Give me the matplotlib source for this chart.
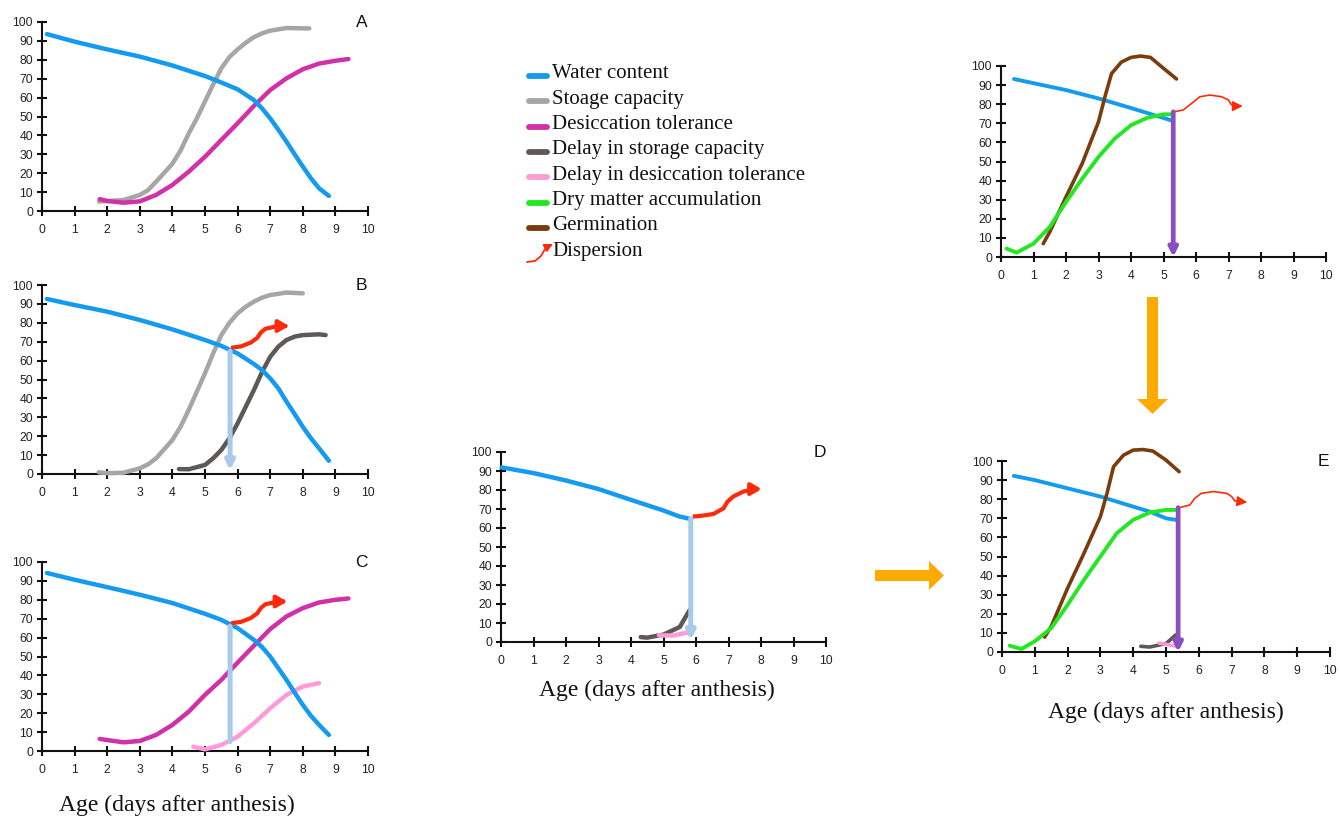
import matplotlib
matplotlib.use('Agg')
import matplotlib.pyplot as plt
from matplotlib.patches import FancyArrow

W, H = 1340, 818

BLUE = '#149bef'
GRAY = '#a6a6a6'
MAGENTA = '#d030a8'
DARKGRAY = '#5e5956'
PINK = '#ff9cd8'
GREEN = '#22e822'
BROWN = '#7a3c0c'
RED = '#ff2a0a'
LIGHTBLUE = '#a9cbea'
PURPLE = '#8a4fbe'
ORANGE = '#ffaa00'

SERIF = ['Liberation Serif', 'DejaVu Serif']
SANS = ['Liberation Sans', 'DejaVu Sans']

# ---- panel A ----
a_water_x = [0.15, 1, 2, 3, 4, 5, 5.5, 6, 6.5, 6.75, 7, 7.25, 7.5, 7.75, 8, 8.25, 8.5, 8.8]
a_water_y = [93.6, 89.6, 85.5, 81.7, 77, 71.4, 68, 64.4, 58.7, 54.3, 49, 43, 36.7, 30, 23.5, 17.3, 12, 8]
a_storage_x = [1.75, 2.5, 3, 3.25, 3.5, 4, 4.25, 4.5, 4.75, 5, 5.25, 5.5, 5.75, 6, 6.25, 6.5, 6.75, 7, 7.5, 8.2]
a_storage_y = [5, 5.8, 8.5, 11, 15.5, 25, 32, 41, 49, 58, 67, 75.5, 81.5, 85.5, 89, 92, 94, 95.4, 96.8, 96.6]
a_desic_x = [1.77, 2, 2.5, 3, 3.5, 4, 4.5, 5, 5.5, 6, 6.5, 7, 7.5, 8, 8.5, 9, 9.4]
a_desic_y = [6.3, 5.3, 4.4, 5.1, 8.5, 13.8, 20.8, 28.7, 37.6, 46.4, 55.6, 64, 70.2, 75, 78, 79.5, 80.4]

# ---- panel B ----
b_water_x = [0.15, 1, 2, 3, 4, 5, 5.5, 6, 6.5, 6.75, 7, 7.25, 7.5, 7.75, 8, 8.25, 8.5, 8.8]
b_water_y = [92.6, 89.4, 85.9, 81.5, 76.5, 70.9, 67.8, 63.8, 58.2, 55, 50.6, 45.3, 38.3, 31.7, 25, 18.9, 13.6, 7]
b_storage_x = [1.74, 2, 2.5, 3, 3.25, 3.5, 4, 4.25, 4.5, 4.75, 5, 5.25, 5.5, 5.75, 6, 6.25, 6.5, 6.75, 7, 7.5, 8]
b_storage_y = [0.9, 0.4, 0.7, 3, 5.1, 8.3, 18, 25, 33.9, 43.6, 53.3, 63.8, 73.5, 80, 85, 88.5, 91.2, 93.3, 94.7, 96, 95.6]
b_delay_x = [4.2, 4.5, 5, 5.25, 5.5, 5.75, 6, 6.25, 6.5, 6.75, 7, 7.25, 7.5, 7.75, 8, 8.5, 8.7]
b_delay_y = [2.6, 2.5, 4.8, 8.3, 12.7, 18.9, 26.8, 35.6, 44.4, 54, 62, 67.4, 70.9, 72.7, 73.5, 73.9, 73.5]
b_disp_x = [5.8, 6.1, 6.4, 6.6, 6.72, 6.85, 7.1, 7.35, 7.58]
b_disp_y = [66.8, 67.5, 69.5, 72, 75, 76.8, 77.8, 78.3, 78.3]
b_harvest = (5.77, 65, 2)

# ---- panel C ----
c_water_x = [0.15, 1, 2, 3, 4, 5, 5.5, 6, 6.5, 6.75, 7, 7.25, 7.5, 7.75, 8, 8.25, 8.5, 8.8]
c_water_y = [94.2, 90.6, 86.7, 82.7, 78.3, 72.6, 69.4, 65, 58.8, 55, 50, 43.8, 37.6, 30.9, 24.4, 18.6, 13.8, 8.5]
c_desic_x = [1.77, 2, 2.5, 3, 3.5, 4, 4.5, 5, 5.5, 6, 6.5, 7, 7.5, 8, 8.5, 9, 9.4]
c_desic_y = [6.4, 5.8, 4.6, 5.3, 8.5, 13.8, 20.8, 29.7, 37.6, 46.8, 55.7, 64.5, 71.2, 75.6, 78.6, 80, 80.7]
c_delay_x = [4.64, 5, 5.5, 6, 6.5, 7, 7.5, 8, 8.5]
c_delay_y = [2.3, 0.9, 3.2, 7.6, 14.7, 22.6, 29.7, 34.1, 35.9]
c_disp_x = [5.8, 6.1, 6.4, 6.6, 6.72, 6.85, 7.1, 7.3, 7.52]
c_disp_y = [67.6, 68.3, 70.3, 72.8, 75.8, 77.6, 78.6, 79.1, 79.1]
c_harvest = (5.77, 66, 5)

# ---- panel D ----
d_water_x = [0.02, 1, 2, 3, 4, 5, 5.5, 5.85]
d_water_y = [91.9, 88.9, 85, 80.5, 74.8, 69.2, 66, 64.7]
d_delay_x = [4.3, 4.5, 5, 5.5, 5.8]
d_delay_y = [2.6, 2.3, 3.9, 7.9, 16.7]
d_delay2_x = [4.86, 5.3, 5.8]
d_delay2_y = [3.5, 3.4, 5.2]
d_disp_x = [5.9, 6.2, 6.54, 6.85, 6.97, 7.15, 7.46, 7.76, 8.02]
d_disp_y = [66, 66.5, 67.4, 70.4, 73.9, 76.6, 79.2, 80.5, 80.5]
d_harvest = (5.84, 65, 1)

# ---- top right panel ----
f_water_x = [0.4, 1, 2, 3, 4, 5, 5.3]
f_water_y = [93.2, 91, 87.4, 83, 78, 72.8, 71.2]
f_dry_x = [0.17, 0.48, 1, 1.5, 2, 2.5, 3, 3.5, 4, 4.5, 5, 5.3]
f_dry_y = [4.4, 2.3, 7, 15.7, 28.8, 41, 52.4, 62, 69, 72.9, 74.7, 74.7]
f_germ_x = [1.3, 1.5, 2, 2.5, 3, 3.2, 3.4, 3.7, 4, 4.3, 4.6, 5, 5.4]
f_germ_y = [7, 13.1, 31.5, 49, 70.8, 84, 96, 102, 104.5, 105.2, 104.5, 98.8, 93.2]
f_disp_x = [5.35, 5.61, 5.87, 6.12, 6.43, 6.79, 7.0, 7.07, 7.17, 7.44]
f_disp_y = [76.1, 77, 80.5, 83.9, 84.8, 83.9, 82.2, 80.1, 79, 79]
f_harvest = (5.3, 76, 0)

# ---- panel E ----
e_water_x = [0.36, 1, 2, 3, 4, 4.5, 5, 5.3]
e_water_y = [92.2, 90, 85.7, 81.4, 76.1, 73.5, 70, 69.2]
e_dry_x = [0.23, 0.59, 1, 1.5, 2, 2.5, 3, 3.5, 4, 4.5, 5, 5.3]
e_dry_y = [3.3, 1.6, 5.6, 12.5, 24.7, 37.8, 50, 62.2, 69.2, 73, 74.4, 74.4]
e_germ_x = [1.3, 1.5, 2, 2.5, 3, 3.2, 3.4, 3.7, 4, 4.3, 4.6, 5, 5.4]
e_germ_y = [7.8, 13.4, 33.4, 51.7, 70.9, 83, 97, 103, 105.7, 106, 105.2, 100.5, 94.4]
e_delay_x = [4.23, 4.5, 5, 5.3]
e_delay_y = [3, 2.6, 4.4, 9]
e_delay2_x = [4.78, 5.32]
e_delay2_y = [4.7, 3]
e_disp_x = [5.42, 5.73, 5.88, 6.08, 6.44, 6.85, 7.0, 7.1, 7.48]
e_disp_y = [75.6, 77, 80.5, 83.1, 84, 83.1, 81.4, 79.1, 78.4]
e_harvest = (5.37, 75.6, 0)

legend_labels = ['Water content', 'Stoage capacity', 'Desiccation tolerance',
                 'Delay in storage capacity', 'Delay in desiccation tolerance',
                 'Dry matter accumulation', 'Germination', 'Dispersion']
legend_colors = [BLUE, GRAY, MAGENTA, DARKGRAY, PINK, GREEN, BROWN, RED]

fig = plt.figure(figsize=(W / 100, H / 100), dpi=100)

bg = fig.add_axes([0, 0, 1, 1])
bg.set_xlim(0, W)
bg.set_ylim(H, 0)
bg.axis('off')


def make_axes(x0, x10, y0, y100):
    ax = fig.add_axes([x0 / W, 1 - y0 / H, (x10 - x0) / W, (y0 - y100) / H])
    ax.set_xlim(0, 10)
    ax.set_ylim(0, 100)
    ax.patch.set_visible(False)
    for s in ['top', 'right']:
        ax.spines[s].set_visible(False)
    for s in ['left', 'bottom']:
        ax.spines[s].set_linewidth(1.5)
        ax.spines[s].set_color('#111111')
    ax.set_xticks(range(0, 11))
    ax.set_yticks(range(0, 101, 10))
    ax.tick_params(axis='both', direction='inout', length=7, width=1.5,
                   colors='#111111', labelsize=8.8, labelcolor='#222222')
    ax.tick_params(axis='x', pad=6)
    ax.tick_params(axis='y', pad=3)
    for lab in ax.get_xticklabels() + ax.get_yticklabels():
        lab.set_family(SANS)
    return ax


def curve(ax, x, y, color, lw=3.2):
    ax.plot(x, y, color=color, lw=lw, solid_capstyle='round',
            solid_joinstyle='round', clip_on=False, zorder=3)


def dispersion(ax, x, y, lw=3.0, hw=0.35, hl=0.6):
    ax.plot(x[:-1], y[:-1], color=RED, lw=lw, solid_capstyle='butt',
            solid_joinstyle='round', clip_on=False, zorder=4)
    ax.annotate('', xy=(x[-1], y[-1]), xytext=(x[-2], y[-2]),
                arrowprops=dict(arrowstyle='-|>,head_length=%s,head_width=%s' % (hl, hw),
                                color=RED, lw=lw, shrinkA=0, shrinkB=0),
                annotation_clip=False, zorder=4)


def harvest(ax, h, color, head=True, lw=3.6):
    x, top, bottom = h
    style = '-|>,head_length=0.5,head_width=0.25' if head else '-'
    ax.annotate('', xy=(x, bottom), xytext=(x, top),
                arrowprops=dict(arrowstyle=style, color=color, lw=lw,
                                shrinkA=0, shrinkB=0),
                annotation_clip=False, zorder=5)


def letter(ax, s):
    ax.text(9.8, 97.5, s, ha='center', va='baseline', fontsize=12.5,
            family=SANS, color='#111111')


# A
ax = make_axes(42, 368, 211, 22)
curve(ax, a_storage_x, a_storage_y, GRAY)
curve(ax, a_desic_x, a_desic_y, MAGENTA)
curve(ax, a_water_x, a_water_y, BLUE)
letter(ax, 'A')

# B
ax = make_axes(42, 368, 474, 285)
curve(ax, b_storage_x, b_storage_y, GRAY)
curve(ax, b_delay_x, b_delay_y, DARKGRAY)
curve(ax, b_water_x, b_water_y, BLUE)
harvest(ax, b_harvest, LIGHTBLUE)
dispersion(ax, b_disp_x, b_disp_y)
letter(ax, 'B')

# C
ax = make_axes(42, 368, 751, 562)
curve(ax, c_desic_x, c_desic_y, MAGENTA)
curve(ax, c_delay_x, c_delay_y, PINK)
curve(ax, c_water_x, c_water_y, BLUE)
harvest(ax, c_harvest, LIGHTBLUE, head=False)
dispersion(ax, c_disp_x, c_disp_y)
letter(ax, 'C')

# D
ax = make_axes(501, 826, 642, 452)
curve(ax, d_delay_x, d_delay_y, DARKGRAY)
curve(ax, d_delay2_x, d_delay2_y, PINK)
curve(ax, d_water_x, d_water_y, BLUE)
harvest(ax, d_harvest, LIGHTBLUE)
dispersion(ax, d_disp_x, d_disp_y)
letter(ax, 'D')

# top right
ax = make_axes(1001, 1326, 257, 66)
curve(ax, f_water_x, f_water_y, BLUE, lw=2.8)
curve(ax, f_germ_x, f_germ_y, BROWN, lw=2.6)
curve(ax, f_dry_x, f_dry_y, GREEN, lw=2.8)
harvest(ax, f_harvest, PURPLE, lw=3.4)
dispersion(ax, f_disp_x, f_disp_y, lw=1.2, hw=0.3, hl=0.6)

# E
ax = make_axes(1002, 1330, 652, 461)
curve(ax, e_water_x, e_water_y, BLUE, lw=2.8)
curve(ax, e_germ_x, e_germ_y, BROWN, lw=2.6)
curve(ax, e_dry_x, e_dry_y, GREEN, lw=2.8)
curve(ax, e_delay_x, e_delay_y, DARKGRAY, lw=2.6)
curve(ax, e_delay2_x, e_delay2_y, PINK, lw=2.6)
harvest(ax, e_harvest, PURPLE, lw=3.4)
dispersion(ax, e_disp_x, e_disp_y, lw=1.2, hw=0.3, hl=0.6)
letter(ax, 'E')

# x labels
for cx, cy in [(177, 805), (657, 690), (1166, 712)]:
    bg.text(cx, cy, 'Age (days after anthesis)', ha='center', va='center',
            fontsize=17, family=SERIF, color='#111111')

# legend
for i, (lab, col) in enumerate(zip(legend_labels, legend_colors)):
    ly = 76 + i * 25.3
    if lab == 'Dispersion':
        icon_x = [527, 535, 541, 545, 549]
        icon_y = [262, 261, 256, 249, 246]
        bg.plot(icon_x, icon_y, color=RED, lw=1.3, solid_capstyle='round')
        bg.annotate('', xy=(553, 244), xytext=(549, 246),
                    arrowprops=dict(arrowstyle='-|>,head_length=0.5,head_width=0.25',
                                    color=RED, lw=1.2, shrinkA=0, shrinkB=0))
    else:
        bg.plot([529, 547], [ly, ly], color=col, lw=4.2, solid_capstyle='round')
    bg.text(552, ly + 2.5, lab, ha='left', va='baseline', fontsize=15,
            family=SERIF, color='#111111')

# orange arrows
bg.add_patch(FancyArrow(1152.5, 297, 0, 117, width=11, head_width=31,
                        head_length=15, length_includes_head=True,
                        color=ORANGE, lw=0))
bg.add_patch(FancyArrow(875, 575.5, 69, 0, width=11, head_width=29,
                        head_length=15, length_includes_head=True,
                        color=ORANGE, lw=0))

fig.savefig('out.png', dpi=100)
